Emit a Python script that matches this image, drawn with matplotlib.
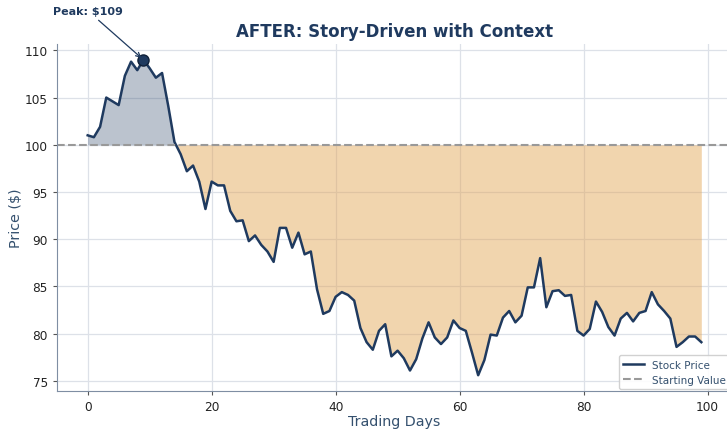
import numpy as np
import matplotlib
matplotlib.use("Agg")
import matplotlib.pyplot as plt

# Daily prices
days = list(range(100))
prices = [
    101.0, 100.8, 101.9, 105.0, 104.6, 104.2, 107.3, 108.8, 107.9, 109.0,
    108.1, 107.1, 107.6, 104.1, 100.3, 99.0, 97.2, 97.8, 96.1, 93.2,
    96.1, 95.7, 95.7, 93.0, 91.9, 92.0, 89.8, 90.4, 89.4, 88.7,
    87.6, 91.2, 91.2, 89.1, 90.7, 88.4, 88.7, 84.7, 82.1, 82.4,
    83.9, 84.4, 84.1, 83.5, 80.6, 79.1, 78.3, 80.3, 81.0, 77.6,
    78.2, 77.4, 76.1, 77.3, 79.5, 81.2, 79.6, 78.9, 79.6, 81.4,
    80.6, 80.3, 78.0, 75.6, 77.2, 79.9, 79.8, 81.7, 82.4, 81.2,
    81.9, 84.9, 84.9, 88.0, 82.8, 84.5, 84.6, 84.0, 84.1, 80.3,
    79.8, 80.5, 83.4, 82.3, 80.7, 79.8, 81.6, 82.2, 81.3, 82.2,
    82.4, 84.4, 83.1, 82.4, 81.6, 78.6, 79.1, 79.7, 79.7, 79.1,
]
start_value = 100
peak_day = 9
peak_value = 109

navy = "#1f3a5f"
label_col = "#34506e"

x = np.array(days)
y = np.array(prices)

fig = plt.figure(figsize=(7.27, 4.31), dpi=100)
ax = fig.add_axes([57 / 727, 39 / 431, 675 / 727, 347 / 431])

ax.fill_between(x, y, start_value, where=y >= start_value, interpolate=True,
                color=navy, alpha=0.3, linewidth=0)
ax.fill_between(x, y, start_value, where=y <= start_value, interpolate=True,
                color="#e2a24d", alpha=0.45, linewidth=0)
ax.plot(x, y, color=navy, lw=1.8, label="Stock Price")
ax.axhline(start_value, color="#999999", ls="--", lw=1.5, label="Starting Value")

ax.plot(peak_day, peak_value, "o", ms=8, color=navy, mec="#0f2038", mew=1)
ax.annotate(f"Peak: ${peak_value}", xy=(peak_day, peak_value), xytext=(0, 114.2),
            fontsize=8, fontweight="bold", color=navy, ha="center", va="center",
            arrowprops=dict(arrowstyle="->", color=navy, lw=0.9),
            annotation_clip=False)

ax.set_title("AFTER: Story-Driven with Context", fontsize=12, fontweight="bold",
             color=navy, pad=6)
ax.set_xlabel("Trading Days", fontsize=10.3, color=label_col, labelpad=0.5)
ax.set_ylabel("Price ($)", fontsize=10.3, color=label_col, labelpad=1)

ax.grid(True, color="#dde1e8", lw=0.9)
ax.set_axisbelow(True)
for s in ["top", "right"]:
    ax.spines[s].set_visible(False)
for s in ["left", "bottom"]:
    ax.spines[s].set_color("#7f8ea3")
ax.tick_params(labelsize=8.7, colors="#222222", length=3)
ax.tick_params(axis="both", color="#555555")

leg = ax.legend(loc="lower right", fontsize=7.5, framealpha=0.9,
                bbox_to_anchor=(1.0, 0.0), borderaxespad=0.2)
for t in leg.get_texts():
    t.set_color(label_col)

fig.savefig("out.png", dpi=100)
